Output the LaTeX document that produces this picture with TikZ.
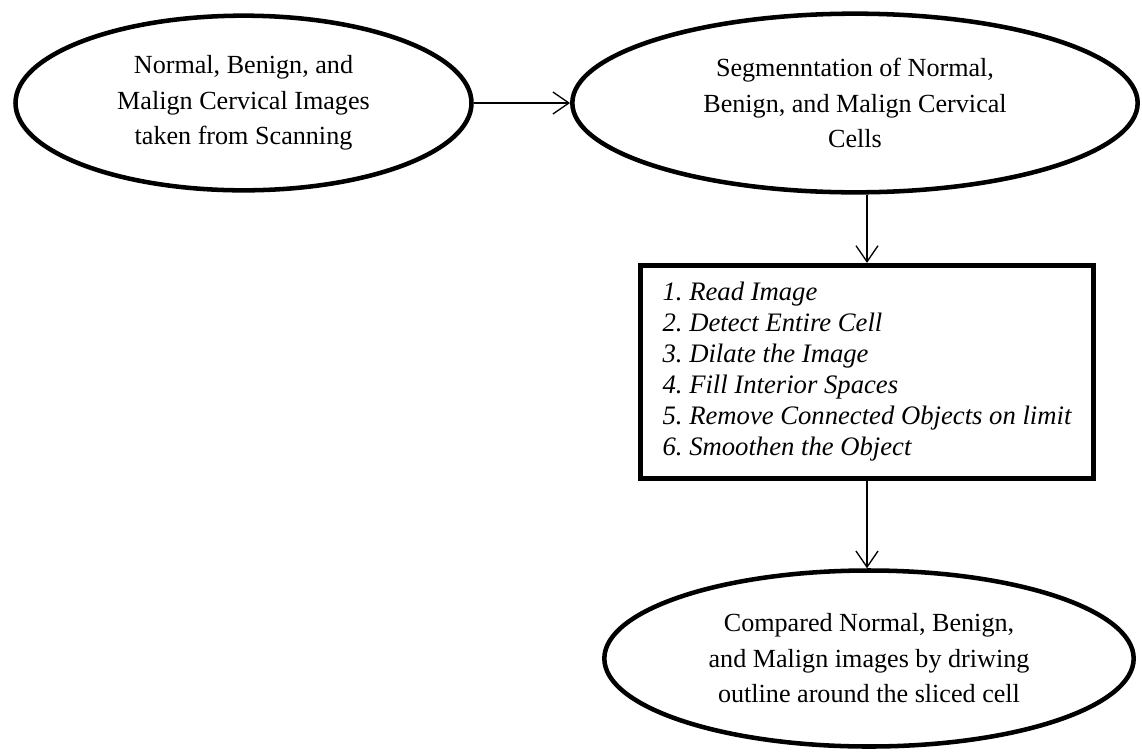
\documentclass[tikz,border=0pt]{standalone}
\usepackage{fontspec}
\setmainfont{Liberation Serif}
\usetikzlibrary{shapes.geometric,arrows.meta}
\begin{document}
\frenchspacing
\begin{tikzpicture}[x=0.75pt,y=-0.75pt,
  oval/.style={ellipse,draw,line width=3.4pt,inner sep=0pt,align=center,
    font=\fontsize{19.6}{26.6}\selectfont},
  stepbox/.style={rectangle,draw,line width=3.7pt,minimum width=340pt,minimum height=160pt,
    align=left,inner sep=0pt,
    font=\fontsize{20}{23.25}\selectfont\itshape},
  arr/.style={line width=1pt,-{Straight Barb[length=12pt,width=16.5pt]}}]
\useasboundingbox (0,0) rectangle (1142,751);
\node[oval,minimum width=342pt,minimum height=131pt] (e1) at (243.5,103)
  {Normal, Benign, and\\Malign Cervical Images\\taken from Scanning};
\node[oval,minimum width=424pt,minimum height=134pt] (e2) at (855,103)
  {Segmenntation of Normal,\\Benign, and Malign Cervical\\Cells};
\node[stepbox] (b) at (867,372)
  {1. Read Image\\2. Detect Entire Cell\\3. Dilate the Image\\4. Fill Interior Spaces\\5. Remove Connected Objects on limit\\6. Smoothen the Object};
\node[oval,minimum width=397pt,minimum height=132pt] (e3) at (869,658.5)
  {Compared Normal, Benign,\\and Malign images by driwing\\outline around the sliced cell};
\draw[arr] (e1.east) -- (e2.west);
\draw[arr] (e2.south -| b.north) -- (b.north);
\draw[arr] (b.south) -- (b.south |- e3.north);
\end{tikzpicture}
\end{document}
